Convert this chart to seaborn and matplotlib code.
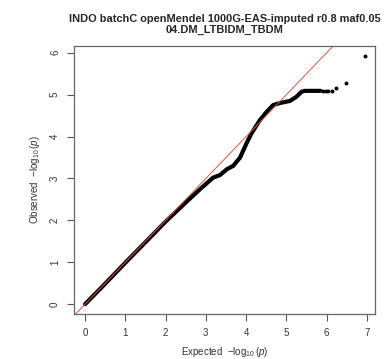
import seaborn as sns
import matplotlib.pyplot as plt
import pandas as pd

# dense part of the QQ curve
curve_expected = [0.0, 0.5, 1.0, 1.5, 2.0, 2.36, 2.85, 3.18, 3.35, 3.52, 3.68,
                  3.85, 4.01, 4.13, 4.34, 4.51, 4.67, 4.84, 5.09, 5.25, 5.38,
                  5.46, 5.85]
curve_observed = [0.0, 0.49, 0.99, 1.48, 1.97, 2.30, 2.74, 3.02, 3.08, 3.22, 3.30,
                  3.50, 3.84, 4.07, 4.39, 4.59, 4.75, 4.80, 4.85, 4.95, 5.07,
                  5.09, 5.09]

# sparse top points
top_expected = [5.92, 5.98, 6.04, 6.12, 6.24, 6.48, 6.95]
top_observed = [5.09, 5.09, 5.09, 5.09, 5.17, 5.28, 5.92]

title = "INDO batchC openMendel 1000G-EAS-imputed r0.8 maf0.05\n04.DM_LTBIDM_TBDM"

sns.set_theme(style="ticks")
plt.rcParams['font.family'] = ['Liberation Sans', 'DejaVu Sans']
plt.rcParams['mathtext.fontset'] = 'custom'
plt.rcParams['mathtext.rm'] = 'Liberation Sans'
plt.rcParams['mathtext.it'] = 'Liberation Sans:italic'

curve = pd.DataFrame({'expected': curve_expected, 'observed': curve_observed})
top = pd.DataFrame({'expected': top_expected, 'observed': top_observed})

fig = plt.figure(figsize=(3.85, 3.59), dpi=100)
ax = fig.add_axes([0.192, 0.125, 0.782, 0.748])

sns.lineplot(data=curve, x='expected', y='observed', sort=False, color='black',
             lw=3.0, solid_capstyle='round', ax=ax)
sns.scatterplot(data=top, x='expected', y='observed', color='black', s=8,
                linewidth=0, ax=ax)
ax.axline((0, 0), slope=1, color='#d9544d', lw=0.7)

ax.set_xlim(-0.277, 7.2)
ax.set_ylim(-0.237, 6.17)
ax.set_xticks(range(0, 8))
ax.set_yticks(range(0, 7))
ax.set_yticklabels([str(i) for i in range(0, 7)], rotation=90, va='center')
ax.tick_params(direction='out', length=5, width=0.8, color='#555555',
               labelsize=7, labelcolor='#333333', pad=5)
for s in ax.spines.values():
    s.set_color('#666666')
    s.set_linewidth(0.9)

ax.set_xlabel(r'Expected  $-\log_{10}(\mathit{p})$', fontsize=7, color='#333333', labelpad=5)
ax.set_ylabel(r'Observed  $-\log_{10}(\mathit{p})$', fontsize=7, color='#333333', labelpad=6)
ax.set_title(title, fontsize=7.9, fontweight='bold', pad=9, linespacing=1.1)

fig.savefig('out.png', dpi=100)
